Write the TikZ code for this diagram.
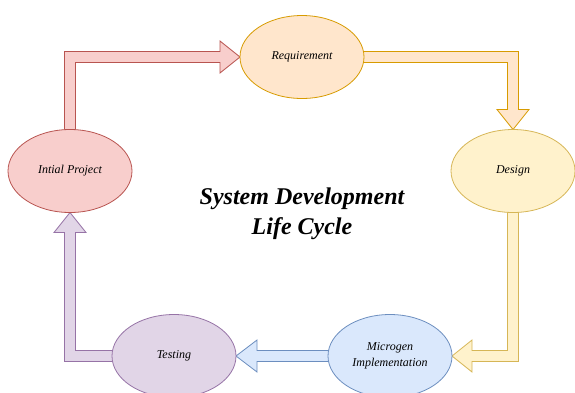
\documentclass[tikz,border=0pt]{standalone}
\usepackage{fontspec}
\setmainfont{Liberation Serif}
\usetikzlibrary{shapes.geometric,calc,backgrounds}

\definecolor{redfill}{HTML}{F8CECC}
\definecolor{redline}{HTML}{B85450}
\definecolor{orafill}{HTML}{FFE6CC}
\definecolor{oraline}{HTML}{D79B00}
\definecolor{yelfill}{HTML}{FFF2CC}
\definecolor{yelline}{HTML}{D6B656}
\definecolor{blufill}{HTML}{DAE8FC}
\definecolor{bluline}{HTML}{6C8EBF}
\definecolor{purfill}{HTML}{E1D5E7}
\definecolor{purline}{HTML}{9673A6}

\tikzset{
  phase/.style={ellipse, draw, line width=0.8pt, minimum width=124pt, minimum height=83pt,
    inner sep=0pt, outer sep=0pt, align=center, font=\fontsize{12}{16}\selectfont\itshape},
  blockarrow/.style={line width=0.8pt, line join=miter}
}

\begin{document}
\begin{tikzpicture}[x=1pt,y=-1pt]
\useasboundingbox (0,0) rectangle (575,392);

\node[phase, fill=redfill, draw=redline] (ini) at (70,171) {Intial Project};
\node[phase, fill=orafill, draw=oraline] (req) at (302,57) {Requirement};
\node[phase, fill=yelfill, draw=yelline] (des) at (513,171) {Design};
\node[phase, fill=blufill, draw=bluline] (mic) at (390,356) {Microgen\\Implementation};
\node[phase, fill=purfill, draw=purline] (tes) at (174,356) {Testing};

\node[align=center, font=\fontsize{24}{30}\selectfont\bfseries\itshape] (title) at (302,214)
  {System Development\\Life Cycle};

\begin{scope}[on background layer]
% initial -> requirement
\draw[blockarrow, fill=redfill, draw=redline]
  ($(ini.north)+(-5.5,3)$) |- ($(req.west)+(-20,-5.5)$) -- ($(req.west)+(-20,-16)$) -- (req.west)
  -- ($(req.west)+(-20,16)$) -- ($(req.west)+(-20,5.5)$) -| ($(ini.north)+(5.5,3)$) -- cycle;
% requirement -> design
\draw[blockarrow, fill=orafill, draw=oraline]
  ($(req.east)+(-3,-5.5)$) -| ($(des.north)+(5.5,-20)$) -- ($(des.north)+(16,-20)$) -- (des.north)
  -- ($(des.north)+(-16,-20)$) -- ($(des.north)+(-5.5,-20)$) |- ($(req.east)+(-3,5.5)$) -- cycle;
% design -> microgen
\draw[blockarrow, fill=yelfill, draw=yelline]
  ($(des.south)+(5.5,-3)$) |- ($(mic.east)+(20,5.5)$) -- ($(mic.east)+(20,16)$) -- (mic.east)
  -- ($(mic.east)+(20,-16)$) -- ($(mic.east)+(20,-5.5)$) -| ($(des.south)+(-5.5,-3)$) -- cycle;
% microgen -> testing
\draw[blockarrow, fill=blufill, draw=bluline]
  ($(mic.west)+(3,-5.5)$) -- ($(tes.east)+(21,-5.5)$) -- ($(tes.east)+(21,-16)$) -- (tes.east)
  -- ($(tes.east)+(21,16)$) -- ($(tes.east)+(21,5.5)$) -- ($(mic.west)+(3,5.5)$) -- cycle;
% testing -> initial
\draw[blockarrow, fill=purfill, draw=purline]
  ($(tes.west)+(3,5.5)$) -| ($(ini.south)+(-5.5,20)$) -- ($(ini.south)+(-16,20)$) -- (ini.south)
  -- ($(ini.south)+(16,20)$) -- ($(ini.south)+(5.5,20)$) |- ($(tes.west)+(3,-5.5)$) -- cycle;
\end{scope}
\end{tikzpicture}
\end{document}
